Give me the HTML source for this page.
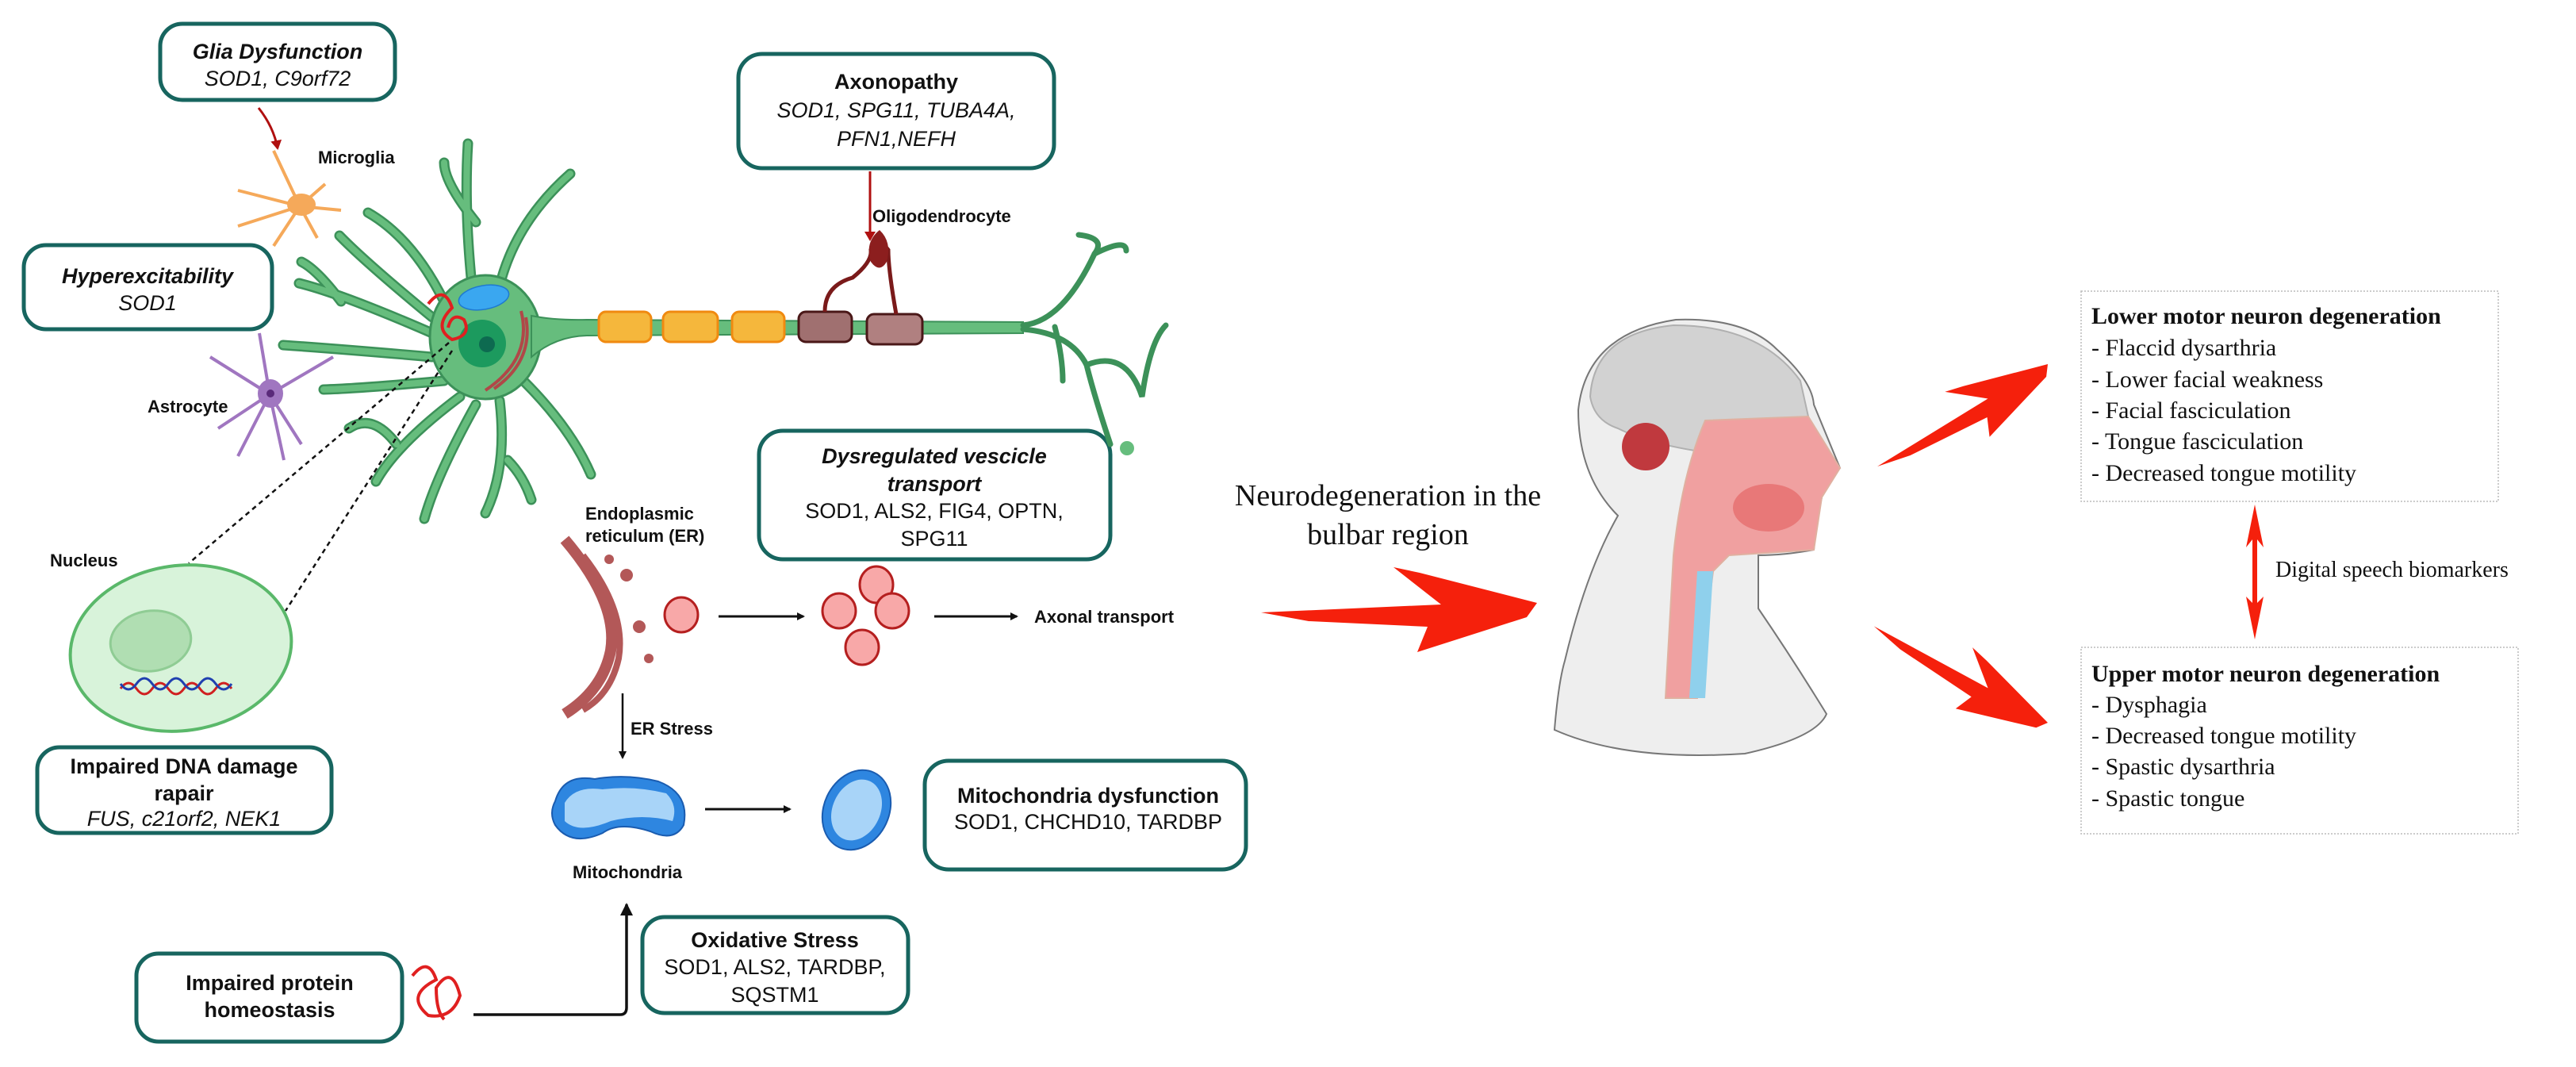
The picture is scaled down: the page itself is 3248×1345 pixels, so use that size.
<!DOCTYPE html>
<html><head><meta charset="utf-8"><style>
html,body{margin:0;padding:0;background:#fff;width:3248px;height:1345px;overflow:hidden}
svg{display:block}
.t{font-family:"Liberation Sans",sans-serif;font-size:27px;fill:#111}
.b{font-weight:bold}
.i{font-style:italic}
.s{font-family:"Liberation Serif",serif;fill:#111}
.box{fill:#fff;stroke:#17655f;stroke-width:5}
</style></head><body>
<svg width="3248" height="1345" viewBox="0 0 3248 1345" xmlns="http://www.w3.org/2000/svg">
<defs>
<marker id="ah" markerWidth="10" markerHeight="10" refX="8" refY="5" orient="auto" markerUnits="userSpaceOnUse"><path d="M0,0 L10,5 L0,10 z" fill="#111"/></marker>
<marker id="ahb" markerWidth="16" markerHeight="16" refX="14" refY="8" orient="auto" markerUnits="userSpaceOnUse"><path d="M0,0 L16,8 L0,16 z" fill="#111"/></marker>
<marker id="ahr" markerWidth="12" markerHeight="14" refX="10" refY="7" orient="auto" markerUnits="userSpaceOnUse"><path d="M0,0 L12,7 L0,14 z" fill="#b01010"/></marker>
<g id="rarrow"><polygon points="-348,12 -121,2 -181,-45 -148,-38 0,0 -13,18 -151,62 -138,30 -288,23" fill="#f5200c"/></g>
</defs>

<!-- Boxes left -->
<rect class="box" x="202" y="30" width="296" height="96" rx="28"/>
<text class="t b i" x="350" y="74" text-anchor="middle">Glia Dysfunction</text>
<text class="t i" x="350" y="108" text-anchor="middle">SOD1, C9orf72</text>

<rect class="box" x="931" y="68" width="398" height="144" rx="30"/>
<text class="t b" x="1130" y="112" text-anchor="middle">Axonopathy</text>
<text class="t i" x="1130" y="148" text-anchor="middle">SOD1, SPG11, TUBA4A,</text>
<text class="t i" x="1130" y="184" text-anchor="middle">PFN1,NEFH</text>

<rect class="box" x="30" y="309" width="313" height="106" rx="28"/>
<text class="t b i" x="186" y="357" text-anchor="middle">Hyperexcitability</text>
<text class="t i" x="186" y="391" text-anchor="middle">SOD1</text>

<rect class="box" x="957" y="543" width="443" height="162" rx="30"/>
<text class="t b i" x="1178" y="584" text-anchor="middle">Dysregulated vescicle</text>
<text class="t b i" x="1178" y="619" text-anchor="middle">transport</text>
<text class="t" x="1178" y="653" text-anchor="middle">SOD1, ALS2, FIG4, OPTN,</text>
<text class="t" x="1178" y="688" text-anchor="middle">SPG11</text>

<rect class="box" x="47" y="942" width="371" height="108" rx="28"/>
<text class="t b" x="232" y="975" text-anchor="middle">Impaired DNA damage</text>
<text class="t b" x="232" y="1009" text-anchor="middle">rapair</text>
<text class="t i" x="232" y="1041" text-anchor="middle">FUS, c21orf2, NEK1</text>

<rect class="box" x="1166" y="959" width="405" height="137" rx="30"/>
<text class="t b" x="1372" y="1012" text-anchor="middle">Mitochondria dysfunction</text>
<text class="t" x="1372" y="1045" text-anchor="middle">SOD1, CHCHD10, TARDBP</text>

<rect class="box" x="810" y="1156" width="335" height="121" rx="28"/>
<text class="t b" x="977" y="1194" text-anchor="middle">Oxidative Stress</text>
<text class="t" x="977" y="1228" text-anchor="middle">SOD1, ALS2, TARDBP,</text>
<text class="t" x="977" y="1263" text-anchor="middle">SQSTM1</text>

<rect class="box" x="172" y="1202" width="335" height="111" rx="28"/>
<text class="t b" x="340" y="1248" text-anchor="middle">Impaired protein</text>
<text class="t b" x="340" y="1282" text-anchor="middle">homeostasis</text>

<!-- connectors left -->
<path d="M326,136 Q345,160 350,187" stroke="#b01010" stroke-width="3" fill="none" marker-end="url(#ahr)"/>
<line x1="1097" y1="216" x2="1097" y2="302" stroke="#b01010" stroke-width="3" marker-end="url(#ahr)"/>

<!-- Neuron -->
<g stroke-linecap="round" fill="none">
<g stroke-width="13" stroke="#3c9159">
<path d="M595,360 Q585,260 590,181"/>
<path d="M630,360 Q650,280 719,219"/>
<path d="M560,380 Q520,300 464,268"/>
<path d="M545,400 Q460,330 428,297"/>
<path d="M545,420 Q430,370 377,357"/>
<path d="M545,450 Q430,440 357,435"/>
<path d="M560,480 Q450,490 408,491"/>
<path d="M580,500 Q500,560 474,607"/>
<path d="M600,510 Q550,600 535,654"/>
<path d="M630,505 Q640,590 612,647"/>
<path d="M660,480 Q720,540 745,598"/>
<path d="M600,280 Q560,230 560,205"/>
<path d="M430,380 Q400,340 380,330"/>
<path d="M500,560 Q470,520 440,540"/>
<path d="M640,580 Q660,600 670,630"/>
</g>
<g stroke-width="8" stroke="#66bd7d">
<path d="M595,360 Q585,260 590,181"/>
<path d="M630,360 Q650,280 719,219"/>
<path d="M560,380 Q520,300 464,268"/>
<path d="M545,400 Q460,330 428,297"/>
<path d="M545,420 Q430,370 377,357"/>
<path d="M545,450 Q430,440 357,435"/>
<path d="M560,480 Q450,490 408,491"/>
<path d="M580,500 Q500,560 474,607"/>
<path d="M600,510 Q550,600 535,654"/>
<path d="M630,505 Q640,590 612,647"/>
<path d="M660,480 Q720,540 745,598"/>
<path d="M600,280 Q560,230 560,205"/>
<path d="M430,380 Q400,340 380,330"/>
<path d="M500,560 Q470,520 440,540"/>
<path d="M640,580 Q660,600 670,630"/>
</g>
</g>
<ellipse cx="612" cy="425" rx="70" ry="78" fill="#66bd7d" stroke="#3c9159" stroke-width="3"/>
<path d="M670,398 Q700,404 740,403 L1290,406 L1290,420 L740,423 Q700,424 670,450 z" fill="#66bd7d" stroke="#3c9159" stroke-width="2"/>
<circle cx="608" cy="433" r="30" fill="#1c9a5e"/>
<circle cx="614" cy="434" r="10" fill="#0d6a50"/>
<ellipse cx="610" cy="375" rx="32" ry="15" fill="#3aa7f0" stroke="#1f7ad0" stroke-width="1.5" transform="rotate(-10 610 375)"/>
<path d="M540,383 q20,-25 30,5 q-25,25 0,40 q25,-5 15,-25 q-15,-10 -20,10" stroke="#e02020" stroke-width="4" fill="none"/>
<path d="M657,392 q15,60 -45,100 M663,400 q10,55 -40,90" stroke="#b04848" stroke-width="4" fill="none"/>
<!-- myelin -->
<g stroke-width="3">
<rect x="755" y="393" width="66" height="38" rx="9" fill="#f5b73c" stroke="#f08a10"/>
<rect x="836" y="393" width="69" height="38" rx="9" fill="#f5b73c" stroke="#f08a10"/>
<rect x="923" y="393" width="66" height="38" rx="9" fill="#f5b73c" stroke="#f08a10"/>
<rect x="1007" y="393" width="67" height="38" rx="9" fill="#a07070" stroke="#4a1818"/>
<rect x="1093" y="396" width="70" height="38" rx="9" fill="#b08080" stroke="#4a1818"/>
</g>
<path d="M1040,393 Q1040,360 1075,350 Q1100,330 1098,315 Q1109,300 1120,315 Q1120,340 1130,396" stroke="#7a1a1a" stroke-width="5" fill="none"/>
<path d="M1098,330 Q1090,305 1109,290 Q1125,305 1118,330 Q1109,345 1098,330z" fill="#8c1e1e"/>
<!-- terminal -->
<g stroke="#3c9159" stroke-width="7" fill="none" stroke-linecap="round">
<path d="M1290,410 Q1340,405 1380,320 Q1395,300 1360,296"/>
<path d="M1380,320 Q1420,300 1420,316"/>
<path d="M1290,415 Q1350,420 1370,460 Q1380,500 1400,560"/>
<path d="M1370,460 Q1420,440 1440,500 Q1450,430 1470,410"/>
<path d="M1330,412 Q1340,450 1340,480"/>
</g>
<circle cx="1421" cy="565" r="9" fill="#66bd7d"/>
<!-- microglia -->
<g stroke="#f5a95a" stroke-width="4" fill="none">
<path d="M378,260 L345,190 M378,260 L410,232 M378,260 L300,240 M378,260 L300,285 M378,260 L345,310 M378,260 L400,300 M378,260 L430,265"/>
</g>
<ellipse cx="380" cy="258" rx="18" ry="14" fill="#f5a95a"/>
<!-- astrocyte -->
<g stroke="#a076c0" stroke-width="4" fill="none">
<path d="M340,497 L327,420 M340,497 L265,450 M340,497 L420,450 M340,497 L275,540 M340,497 L300,575 M340,497 L358,580 M340,497 L380,560"/>
</g>
<ellipse cx="341" cy="496" rx="16" ry="18" fill="#a076c0"/>
<circle cx="341" cy="496" r="5" fill="#5a2a7a"/>
<text class="t b" x="401" y="206" style="font-size:22px">Microglia</text>
<text class="t b" x="1100" y="280" style="font-size:22px">Oligodendrocyte</text>
<text class="t b" x="186" y="520" style="font-size:22px">Astrocyte</text>

<!-- dashed -->
<line x1="566" y1="432" x2="238" y2="710" stroke="#111" stroke-width="2.5" stroke-dasharray="6,5"/>
<line x1="570" y1="442" x2="360" y2="770" stroke="#111" stroke-width="2.5" stroke-dasharray="6,5"/>
<text class="t b" x="63" y="714" style="font-size:22px">Nucleus</text>
<ellipse cx="228" cy="817" rx="140" ry="104" fill="#d8f3da" stroke="#5ab86a" stroke-width="4" transform="rotate(-8 228 817)"/>
<ellipse cx="190" cy="808" rx="51" ry="38" fill="#b0deb2" stroke="#8fcc94" stroke-width="3" transform="rotate(-8 190 808)"/>
<path d="M152,868 q10,-14 20,0 t20,0 t20,0 t20,0 t20,0 t20,0 t20,0" stroke="#d02020" stroke-width="3" fill="none"/>
<path d="M152,862 q10,14 20,0 t20,0 t20,0 t20,0 t20,0 t20,0 t20,0" stroke="#2040b0" stroke-width="3" fill="none"/>

<!-- ER -->
<path d="M712,680 Q780,760 770,820 Q760,870 712,900" stroke="#b35858" stroke-width="14" fill="none"/>
<path d="M735,700 Q790,770 780,830 Q770,875 735,895" stroke="#b35858" stroke-width="8" fill="none"/>
<circle cx="768" cy="705" r="6" fill="#b35858"/><circle cx="790" cy="725" r="8" fill="#b35858"/><circle cx="806" cy="790" r="8" fill="#b35858"/><circle cx="818" cy="830" r="6" fill="#b35858"/>
<text class="t b" x="738" y="655" style="font-size:22px">Endoplasmic</text>
<text class="t b" x="738" y="683" style="font-size:22px">reticulum (ER)</text>
<ellipse cx="859" cy="775" rx="21" ry="22" fill="#f8a8a8" stroke="#b51f1f" stroke-width="3"/>
<line x1="906" y1="777" x2="1013" y2="777" stroke="#111" stroke-width="3" marker-end="url(#ah)"/>
<ellipse cx="1105" cy="737" rx="21" ry="23" fill="#f8a8a8" stroke="#b51f1f" stroke-width="3"/>
<ellipse cx="1058" cy="770" rx="21" ry="22" fill="#f8a8a8" stroke="#b51f1f" stroke-width="3"/>
<ellipse cx="1125" cy="770" rx="21" ry="22" fill="#f8a8a8" stroke="#b51f1f" stroke-width="3"/>
<ellipse cx="1087" cy="816" rx="21" ry="22" fill="#f8a8a8" stroke="#b51f1f" stroke-width="3"/>
<line x1="1178" y1="777" x2="1282" y2="777" stroke="#111" stroke-width="3" marker-end="url(#ah)"/>
<text class="t b" x="1304" y="785" style="font-size:22px">Axonal transport</text>
<line x1="785" y1="874" x2="785" y2="955" stroke="#111" stroke-width="2.5" marker-end="url(#ah)"/>
<text class="t b" x="795" y="926" style="font-size:22px">ER Stress</text>
<!-- mito -->
<path d="M700,1010 Q710,975 750,982 Q790,975 830,985 Q870,1000 862,1040 Q850,1062 820,1048 Q780,1035 760,1050 Q720,1068 700,1040 Q692,1025 700,1010z" fill="#2e86e0" stroke="#1a5cb0" stroke-width="2"/>
<path d="M712,1012 Q725,990 760,995 Q800,990 840,1000 Q855,1015 848,1035 Q810,1025 770,1035 Q730,1052 712,1035z" fill="#a8d4f8"/>
<line x1="889" y1="1020" x2="996" y2="1020" stroke="#111" stroke-width="3" marker-end="url(#ah)"/>
<ellipse cx="1080" cy="1021" rx="52" ry="41" fill="#2e86e0" stroke="#1a5cb0" stroke-width="2" transform="rotate(-65 1080 1021)"/>
<ellipse cx="1080" cy="1021" rx="40" ry="30" fill="#a8d4f8" transform="rotate(-65 1080 1021)"/>
<text class="t b" x="791" y="1107" text-anchor="middle" style="font-size:22px">Mitochondria</text>
<!-- protein path -->
<path d="M520,1230 q20,-25 30,5 q-40,20 -10,45 q30,5 40,-25 q-10,-40 -30,-10 q0,30 10,40" stroke="#e02020" stroke-width="4" fill="none"/>
<path d="M597,1279 L782,1279 Q790,1279 790,1270 L790,1140" stroke="#111" stroke-width="3.5" fill="none" marker-end="url(#ahb)"/>

<!-- Right side -->
<text class="s" x="1750" y="637" text-anchor="middle" style="font-size:38px">Neurodegeneration in the</text>
<text class="s" x="1750" y="686" text-anchor="middle" style="font-size:38px">bulbar region</text>
<use href="#rarrow" transform="translate(1938,760)"/>
<use href="#rarrow" transform="translate(2582,459) rotate(-29) scale(0.72)"/>
<use href="#rarrow" transform="translate(2582,911) rotate(31) scale(0.72)"/>

<!-- head -->
<path d="M1960,920 Q1965,860 1973,833 Q2000,720 2040,650 Q1990,600 1990,517 Q2000,420 2113,403 Q2200,400 2240,440 Q2285,480 2287,510 L2320,590 L2297,610 L2297,627 L2290,660 L2287,693 Q2250,700 2217,700 L2217,767 Q2260,830 2303,900 Q2290,930 2200,950 Q2050,960 1960,920z" fill="#eeeeee" stroke="#777" stroke-width="2"/>
<path d="M2005,500 Q2010,420 2110,410 Q2220,410 2270,480 L2280,525 Q2230,560 2150,570 Q2080,560 2040,540 Q2010,530 2005,500z" fill="#d2d2d2" stroke="#b0b0b0" stroke-width="2"/>
<circle cx="2075" cy="563" r="30" fill="#c0393e"/>
<path d="M2150,530 L2280,525 L2320,590 L2297,627 L2287,693 L2180,700 L2160,720 L2140,880 L2100,880 L2110,700 Q2120,600 2150,530z" fill="#f0a0a0" stroke="#e0b0a0" stroke-width="2"/>
<ellipse cx="2230" cy="640" rx="45" ry="30" fill="#e87878"/>
<path d="M2140,720 L2160,720 L2150,880 L2130,880z" fill="#8fd0ec"/>

<!-- LMN box -->
<rect x="2624" y="367" width="526" height="265" fill="#fff" stroke="#bbb" stroke-width="1.5" stroke-dasharray="2,2"/>
<g class="s" style="font-size:30px">
<text x="2637" y="408" font-weight="bold">Lower motor neuron degeneration</text>
<text x="2637" y="448">- Flaccid dysarthria</text>
<text x="2637" y="488">- Lower facial weakness</text>
<text x="2637" y="527">- Facial fasciculation</text>
<text x="2637" y="566">- Tongue fasciculation</text>
<text x="2637" y="606">- Decreased tongue motility</text>
</g>
<rect x="2624" y="816" width="551" height="235" fill="#fff" stroke="#bbb" stroke-width="1.5" stroke-dasharray="2,2"/>
<g class="s" style="font-size:30px">
<text x="2637" y="859" font-weight="bold">Upper motor neuron degeneration</text>
<text x="2637" y="898">- Dysphagia</text>
<text x="2637" y="937">- Decreased tongue motility</text>
<text x="2637" y="976">- Spastic dysarthria</text>
<text x="2637" y="1016">- Spastic tongue</text>
</g>
<!-- double arrow -->
<path d="M2843,636 L2832,690 L2840,680 L2840,760 L2832,752 L2843,806 L2854,752 L2846,760 L2846,680 L2854,690z" fill="#f5200c"/>
<text class="s" x="2869" y="727" style="font-size:28px">Digital speech biomarkers</text>
</svg>
</body></html>
